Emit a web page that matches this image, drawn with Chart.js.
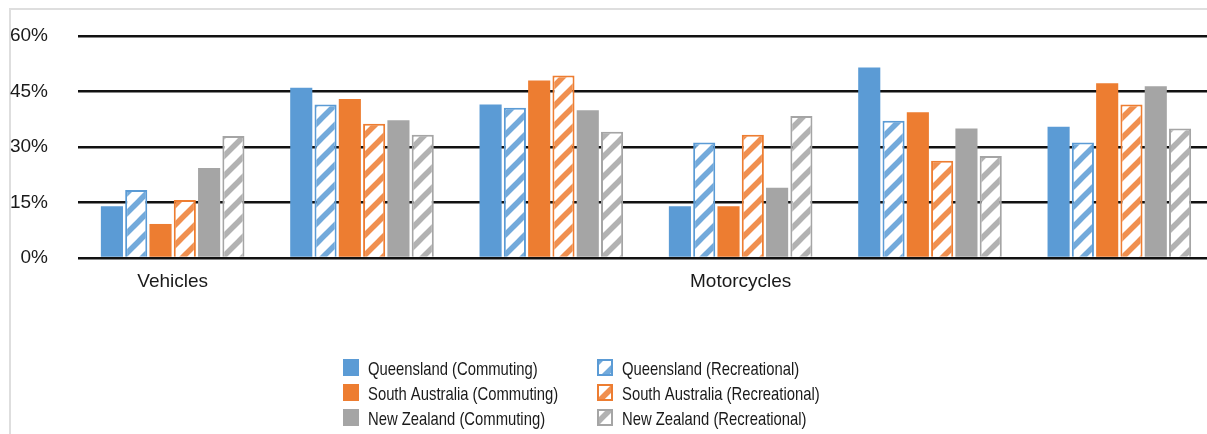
<!DOCTYPE html>
<html>
<head>
<meta charset="utf-8">
<script src="https://cdn.jsdelivr.net/npm/chart.js@4"></script>
<style>
  html, body { margin: 0; padding: 0; background: #fff; overflow: hidden; }
  #frame { position: absolute; left: 9px; top: 8px; width: 1300px; height: 500px;
           border-top: 2px solid #dedede; border-left: 2px solid #dedede; }
  #wrap { position: absolute; left: 0; top: 0; width: 1220px; height: 434px; }
</style>
</head>
<body>
<div id="frame"></div>
<div id="wrap"><canvas id="chart"></canvas></div>
<script>
// x tick labels (Vehicles group, then the Motorcycles groups)
const tickLabels = ['Vehicles', '', '', 'Motorcycles', '', ''];
const yTicks = [0, 15, 30, 45, 60];

const seriesNames = [
  'Queensland (Commuting)', 'Queensland (Recreational)',
  'South Australia (Commuting)', 'South Australia (Recreational)',
  'New Zealand (Commuting)', 'New Zealand (Recreational)',
];
const qldCommuting = [14, 46, 41.5, 14, 51.5, 35.5];
const qldRecreational = [18.4, 41.5, 40.6, 31.2, 37.1, 31.2];
const saCommuting = [9.2, 43, 48, 14, 39.4, 47.2];
const saRecreational = [15.7, 36.3, 49.3, 33.3, 26.3, 41.5];
const nzCommuting = [24.3, 37.2, 39.9, 19, 35, 46.4];
const nzRecreational = [33, 33.3, 34.1, 38.4, 27.6, 35];

const blue = '#5b9bd5';
const orange = '#ed7d31';
const grey = '#a5a5a5';

// wide upward diagonal hatch, like the Excel pattern fill
function hatchTile(color) {
  const c = document.createElement('canvas');
  c.width = 20; c.height = 20;
  const g = c.getContext('2d');
  g.fillStyle = '#fff';
  g.fillRect(0, 0, 20, 20);
  g.strokeStyle = color;
  g.lineWidth = 5.5;
  g.globalAlpha = 0.85;
  // lines x + y = 0, 20, 40
  [0, 20, 40].forEach((s) => {
    g.beginPath();
    g.moveTo(s + 5, -5);
    g.lineTo(s - 25, 25);
    g.stroke();
  });
  return g.createPattern(c, 'repeat');
}

const solid = (label, data, color) => ({
  label, data, backgroundColor: color, borderWidth: 0,
});
const striped = (label, data, color) => ({
  label, data, backgroundColor: hatchTile(color), borderColor: color, borderWidth: 2,
});

const datasets = [
  solid(seriesNames[0], qldCommuting, blue),
  striped(seriesNames[1], qldRecreational, blue),
  solid(seriesNames[2], saCommuting, orange),
  striped(seriesNames[3], saRecreational, orange),
  solid(seriesNames[4], nzCommuting, grey),
  striped(seriesNames[5], nzRecreational, grey),
];

// two-column legend; text squeezed to look like the narrow font of the original
const legendPlugin = {
  id: 'gridLegend',
  afterDraw(chart) {
    const { ctx } = chart;
    const cols = [343, 597];
    const rows = [367, 392, 417];
    ctx.save();
    ctx.font = '19px "Liberation Sans", Arial, sans-serif';
    ctx.textBaseline = 'middle';
    chart.data.datasets.forEach((ds, i) => {
      const x = cols[i % 2];
      const y = rows[Math.floor(i / 2)];
      ctx.fillStyle = ds.backgroundColor;
      ctx.fillRect(x, y - 8, 16, 17);
      if (ds.borderWidth) {
        ctx.strokeStyle = ds.borderColor;
        ctx.lineWidth = 2;
        ctx.strokeRect(x + 1, y - 7, 14, 15);
      }
      ctx.save();
      ctx.translate(x + 25, y + 3);
      ctx.scale(0.78, 1);
      ctx.fillStyle = '#1a1a1a';
      ctx.fillText(ds.label, 0, 0);
      ctx.restore();
    });
    ctx.restore();
  },
};

new Chart(document.getElementById('chart'), {
  type: 'bar',
  data: { labels: tickLabels, datasets },
  options: {
    responsive: true,
    maintainAspectRatio: false,
    animation: false,
    layout: { padding: { top: 36, right: 6, left: 0, bottom: 0 } },
    plugins: {
      legend: { display: false },
      tooltip: { enabled: false },
    },
    datasets: { bar: { categoryPercentage: 0.77, barPercentage: 0.91 } },
    scales: {
      x: {
        grid: { display: false, drawTicks: false },
        border: { display: false },
        ticks: {
          autoSkip: false,
          maxRotation: 0,
          padding: 12,
          color: '#1a1a1a',
          font: { family: '"Liberation Sans", Arial, sans-serif', size: 19 },
        },
        afterFit(scale) { scale.height = 176; },
      },
      y: {
        min: 0,
        max: 60,
        afterBuildTicks(scale) { scale.ticks = yTicks.map((v) => ({ value: v })); },
        grid: { color: '#111', lineWidth: 2.5, drawTicks: false },
        border: { display: false },
        ticks: {
          padding: 30,
          color: '#1a1a1a',
          font: { family: '"Liberation Sans", Arial, sans-serif', size: 19 },
          callback: (v) => v + '%',
        },
        afterFit(scale) {
          scale.width = 78;
          // tick padding should not push the plot down
          scale.paddingTop = 0;
          scale.paddingBottom = 0;
        },
      },
    },
  },
  plugins: [legendPlugin],
});
</script>
</body>
</html>
